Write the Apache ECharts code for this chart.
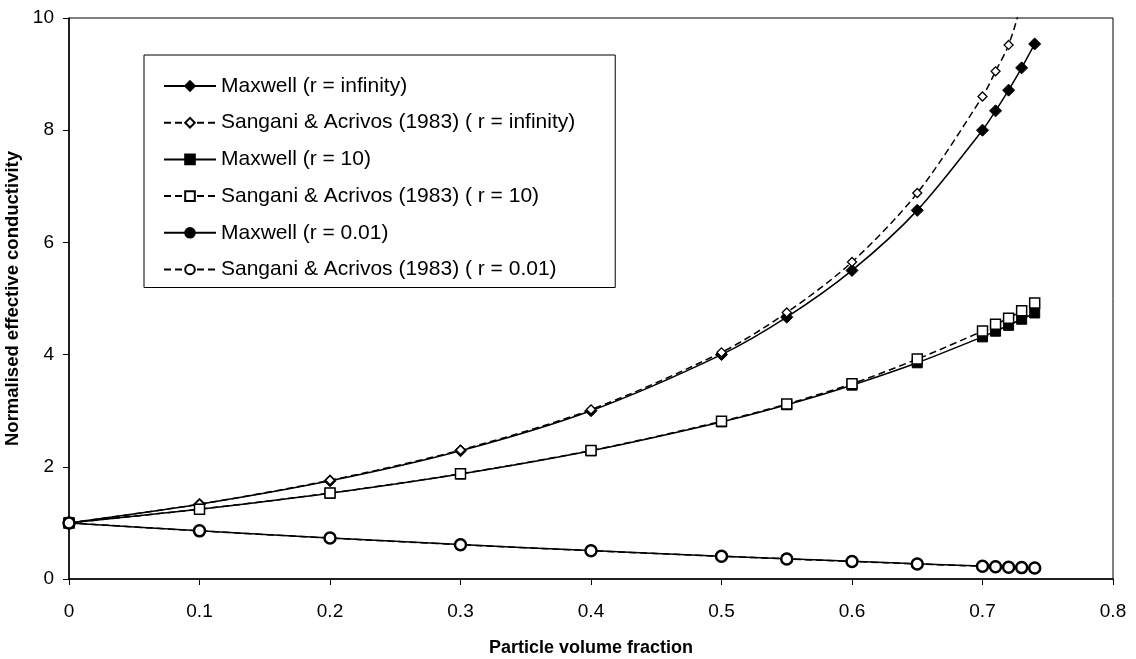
<!DOCTYPE html>
<html>
<head>
<meta charset="utf-8">
<script src="https://cdn.jsdelivr.net/npm/echarts@6/dist/echarts.min.js"></script>
<style>
  html, body { margin: 0; padding: 0; background: #fff; }
  #chart { width: 1136px; height: 659px; }
</style>
</head>
<body>
<div id="chart"></div>
<script>
// --- Data ---
const volumeFraction = [0, 0.1, 0.2, 0.3, 0.4, 0.5, 0.55, 0.6, 0.65, 0.7, 0.71, 0.72, 0.73, 0.74];

const maxwellInf = [1, 1.333, 1.75, 2.286, 3.0, 4.0, 4.667, 5.5, 6.571, 8.0, 8.345, 8.714, 9.111, 9.538];
const sanganiInf = [1, 1.334, 1.76, 2.3, 3.02, 4.04, 4.75, 5.65, 6.88, 8.6, 9.05, 9.52, 10.3, 11.6];
const maxwell10 = [1, 1.243, 1.529, 1.871, 2.286, 2.8, 3.106, 3.455, 3.854, 4.316, 4.417, 4.522, 4.63, 4.742];
const sangani10 = [1, 1.245, 1.532, 1.875, 2.29, 2.81, 3.12, 3.48, 3.92, 4.42, 4.54, 4.65, 4.78, 4.92];
const maxwell001 = [1, 0.859, 0.731, 0.614, 0.506, 0.407, 0.361, 0.316, 0.272, 0.231, 0.223, 0.215, 0.207, 0.199];
const sangani001 = [1, 0.858, 0.73, 0.612, 0.504, 0.405, 0.358, 0.313, 0.269, 0.227, 0.219, 0.211, 0.203, 0.195];

const seriesNames = [
    'Maxwell (r = infinity)',
    'Sangani & Acrivos (1983) ( r = infinity)',
    'Maxwell (r = 10)',
    'Sangani & Acrivos (1983) ( r = 10)',
    'Maxwell (r = 0.01)',
    'Sangani & Acrivos (1983) ( r = 0.01)'
];

const FONT = '"Liberation Sans", Arial, sans-serif';

const pair = (ys) => volumeFraction.map((x, i) => [x, ys[i]]);

// filled marker, solid line
const solidSeries = (name, ys, symbol, size) => ({
    name, type: 'line', data: pair(ys), smooth: 0.3, clip: true,
    symbol, symbolSize: size, showAllSymbol: true,
    lineStyle: { color: '#000', width: 1.5, type: 'solid' },
    itemStyle: { color: '#000', borderColor: '#000', borderWidth: 1 },
    emphasis: { disabled: true }
});

// open marker, dashed line
const dashedSeries = (name, ys, symbol, size, bw) => ({
    name, type: 'line', data: pair(ys), smooth: 0.3, clip: true,
    symbol, symbolSize: size, showAllSymbol: true,
    lineStyle: { color: '#000', width: 1.5, type: [7, 4] },
    itemStyle: { color: '#fff', borderColor: '#000', borderWidth: bw },
    emphasis: { disabled: true }
});

const chart = echarts.init(document.getElementById('chart'));

chart.setOption({
    animation: false,
    backgroundColor: '#fff',
    grid: {
        left: 69, right: 23, top: 18, bottom: 80,
        outerBoundsMode: 'none', containLabel: false,
        show: true, borderColor: '#000', borderWidth: 1, backgroundColor: 'transparent'
    },
    legend: {
        data: seriesNames,
        orient: 'vertical',
        left: 144, top: 55,
        padding: [19, 40, 6, 19],
        itemGap: 12.7,
        itemWidth: 52, itemHeight: 12,
        borderColor: '#000', borderWidth: 1, backgroundColor: '#fff',
        textStyle: { fontFamily: FONT, fontSize: 21, color: '#000', lineHeight: 24 }
    },
    xAxis: {
        type: 'value', min: 0, max: 0.8, interval: 0.1,
        name: 'Particle volume fraction',
        nameLocation: 'middle', nameGap: 60,
        nameTextStyle: { fontFamily: FONT, fontSize: 18, fontWeight: 'bold', color: '#000' },
        axisLine: { lineStyle: { color: '#000', width: 1.5 } },
        axisTick: { show: true, length: 6, inside: false, lineStyle: { color: '#000' } },
        axisLabel: { fontFamily: FONT, fontSize: 19, color: '#000', margin: 23 },
        splitLine: { show: false }
    },
    yAxis: {
        type: 'value', min: 0, max: 10, interval: 2,
        name: 'Normalised effective conductivity',
        nameLocation: 'middle', nameGap: 45,
        nameTextStyle: { fontFamily: FONT, fontSize: 18.5, fontWeight: 'bold', color: '#000' },
        axisLine: { show: true, lineStyle: { color: '#000', width: 1.5 } },
        axisTick: { show: true, length: 6, inside: false, lineStyle: { color: '#000' } },
        axisLabel: { fontFamily: FONT, fontSize: 19, color: '#000', margin: 15 },
        splitLine: { show: false }
    },
    series: [
        solidSeries(seriesNames[0], maxwellInf, 'diamond', 12),
        dashedSeries(seriesNames[1], sanganiInf, 'diamond', 9, 1.3),
        solidSeries(seriesNames[2], maxwell10, 'rect', 10),
        dashedSeries(seriesNames[3], sangani10, 'rect', 10, 1.5),
        solidSeries(seriesNames[4], maxwell001, 'circle', 11),
        dashedSeries(seriesNames[5], sangani001, 'circle', 11, 2.5)
    ]
});
</script>
</body>
</html>
